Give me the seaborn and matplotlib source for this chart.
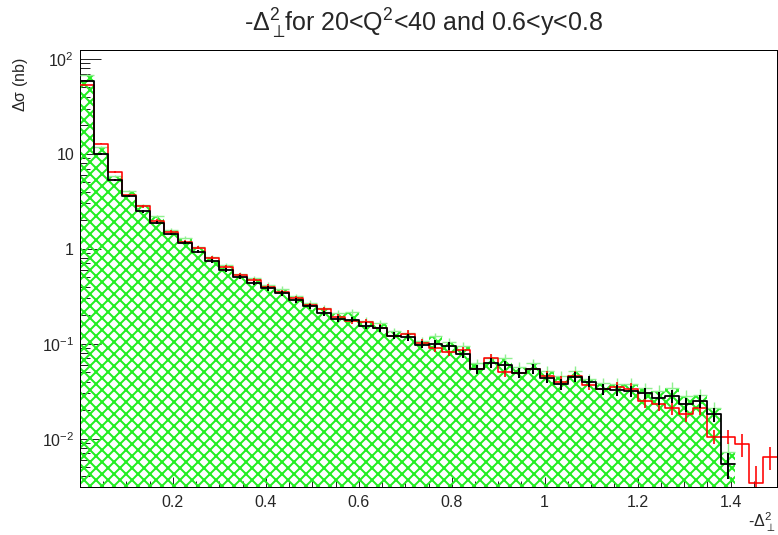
import matplotlib
matplotlib.use("Agg")
import matplotlib.pyplot as plt
import matplotlib.ticker as mticker
import numpy as np
import seaborn as sns

# 50 bins of width 0.03 on 0 .. 1.5
bin_width = 0.03
n_bins = 50

# values (nb), bin by bin
black_vals = [58, 10.0, 5.3, 3.57, 2.48, 1.89, 1.44, 1.16, 0.93, 0.745,
              0.60, 0.50, 0.435, 0.385, 0.34, 0.286, 0.248, 0.209, 0.184, 0.18,
              0.155, 0.145, 0.122, 0.117, 0.098, 0.100, 0.095, 0.078, 0.054, 0.063,
              0.060, 0.049, 0.054, 0.0435, 0.0375, 0.0445, 0.040, 0.0335, 0.0325, 0.0318,
              0.0301, 0.0267, 0.028, 0.023, 0.0248, 0.018, 0.0054]
red_vals = [53, 12.8, 6.4, 3.65, 2.80, 1.98, 1.52, 1.19, 1.03, 0.80,
            0.644, 0.53, 0.468, 0.40, 0.35, 0.30, 0.255, 0.23, 0.19, 0.175,
            0.168, 0.148, 0.122, 0.128, 0.103, 0.091, 0.081, 0.085, 0.054, 0.070,
            0.050, 0.049, 0.054, 0.046, 0.040, 0.046, 0.037, 0.0335, 0.035, 0.0335,
            0.025, 0.023, 0.0209, 0.018, 0.0209, 0.0105, 0.0105, 0.0088, 0.0034, 0.0064]
green_vals = [68, 11.9, 5.8, 4.04, 2.87, 2.19, 1.59, 1.31, 1.05, 0.82,
              0.68, 0.54, 0.49, 0.42, 0.38, 0.315, 0.27, 0.24, 0.21, 0.215,
              0.175, 0.165, 0.137, 0.13, 0.108, 0.12, 0.105, 0.095, 0.062, 0.07,
              0.07, 0.057, 0.062, 0.052, 0.046, 0.052, 0.043, 0.039, 0.038, 0.038,
              0.034, 0.032, 0.034, 0.028, 0.029, 0.021, 0.0073]

# relative errors
black_err = [0.01, 0.02, 0.02, 0.02, 0.03, 0.03, 0.03, 0.04, 0.04, 0.04,
             0.05, 0.05, 0.05, 0.06, 0.06, 0.06, 0.06, 0.07, 0.07, 0.07,
             0.08, 0.08, 0.08, 0.08, 0.09, 0.09, 0.09, 0.10, 0.11, 0.11,
             0.11, 0.12, 0.12, 0.12, 0.13, 0.12, 0.13, 0.13, 0.14, 0.14,
             0.14, 0.15, 0.15, 0.16, 0.16, 0.17, 0.30]
red_err = [0.01, 0.02, 0.02, 0.02, 0.03, 0.03, 0.03, 0.04, 0.04, 0.04,
           0.05, 0.05, 0.05, 0.06, 0.06, 0.06, 0.06, 0.07, 0.07, 0.07,
           0.08, 0.08, 0.08, 0.08, 0.09, 0.09, 0.09, 0.10, 0.11, 0.11,
           0.11, 0.12, 0.12, 0.12, 0.13, 0.12, 0.13, 0.13, 0.14, 0.14,
           0.15, 0.15, 0.16, 0.16, 0.16, 0.17, 0.17, 0.27, 0.50, 0.27]
green_err = [0.01, 0.02, 0.02, 0.02, 0.03, 0.03, 0.03, 0.04, 0.04, 0.04,
             0.05, 0.05, 0.05, 0.06, 0.06, 0.06, 0.06, 0.07, 0.07, 0.07,
             0.08, 0.08, 0.08, 0.08, 0.09, 0.09, 0.09, 0.10, 0.11, 0.11,
             0.11, 0.12, 0.12, 0.12, 0.13, 0.12, 0.13, 0.13, 0.14, 0.14,
             0.14, 0.15, 0.15, 0.16, 0.16, 0.17, 0.25]

x_ticks = [0.2, 0.4, 0.6, 0.8, 1.0, 1.2, 1.4]
x_ticklabels = ["0.2", "0.4", "0.6", "0.8", "1", "1.2", "1.4"]
y_ticks = [1e-2, 1e-1, 1, 10, 100]
y_ticklabels = ["$10^{-2}$", "$10^{-1}$", "1", "10", "$10^{2}$"]

GREEN = "#22ee22"
LIGHT_GREEN = "#90f090"

sns.set_style("white")
plt.rcParams["font.family"] = ["Liberation Sans", "DejaVu Sans"]
plt.rcParams["mathtext.fontset"] = "custom"
plt.rcParams["mathtext.rm"] = "Liberation Sans"
plt.rcParams["mathtext.it"] = "Liberation Sans"
plt.rcParams["hatch.color"] = GREEN
plt.rcParams["hatch.linewidth"] = 2.0


def centers_edges(n):
    edges = [i * bin_width for i in range(n + 1)]
    centers = [e + bin_width / 2 for e in edges[:-1]]
    return centers, edges


# 72 dpi so that hatch spacing matches the ROOT pattern
fig = plt.figure(figsize=(778 / 72, 535 / 72), dpi=72)
ax = fig.add_axes([80 / 778, 1 - 487 / 535, 697 / 778, 437 / 535])

# green hatched histogram
gc, ge = centers_edges(len(green_vals))
sns.histplot(x=gc, weights=green_vals, bins=ge, element="step", fill=True,
             color=GREEN, linewidth=0, ax=ax)
fill = ax.collections[-1]
fill.set_facecolor("none")
fill.set_edgecolor(GREEN)
fill.set_linewidth(0)
fill.set_hatch("xx")
ax.errorbar(gc, green_vals, yerr=np.array(green_err) * np.array(green_vals),
            xerr=bin_width / 2, fmt="none", ecolor=LIGHT_GREEN, elinewidth=1.4,
            zorder=3)

# red histogram
rc, re_ = centers_edges(len(red_vals))
sns.histplot(x=rc, weights=red_vals, bins=re_, element="step", fill=False,
             color="red", linewidth=1.6, ax=ax, zorder=4)
ax.errorbar(rc, red_vals, yerr=np.array(red_err) * np.array(red_vals),
            fmt="none", ecolor="red", elinewidth=1.6, zorder=4)

# black histogram
bc, be = centers_edges(len(black_vals))
sns.histplot(x=bc, weights=black_vals, bins=be, element="step", fill=False,
             color="black", linewidth=1.8, ax=ax, zorder=5)
ax.errorbar(bc, black_vals, yerr=np.array(black_err) * np.array(black_vals),
            fmt="none", ecolor="black", elinewidth=2.0, zorder=5)

ax.set_yscale("log")
ax.set_xlim(0, n_bins * bin_width)
ax.set_ylim(0.0031, 124)

ax.set_xticks(x_ticks)
ax.set_xticklabels(x_ticklabels)
ax.xaxis.set_minor_locator(mticker.MultipleLocator(0.05))
ax.set_yticks(y_ticks)
ax.set_yticklabels(y_ticklabels)
ax.yaxis.set_minor_locator(mticker.LogLocator(base=10, subs=np.arange(2, 10)))
ax.yaxis.set_minor_formatter(mticker.NullFormatter())

ax.tick_params(axis="x", which="major", direction="in", length=10, width=1,
               labelsize=16, pad=8, top=False, bottom=True)
ax.tick_params(axis="x", which="minor", direction="in", length=6, width=1,
               top=False, bottom=True)
ax.tick_params(axis="y", which="major", direction="in", length=21, width=1,
               labelsize=16, pad=6, right=False, left=True)
ax.tick_params(axis="y", which="minor", direction="in", length=10, width=1,
               right=False, left=True)
for s in ax.spines.values():
    s.set_color("black")
    s.set_linewidth(1)

ax.set_xlabel("")
ax.set_ylabel("")
fig.text(424 / 778, 1 - 24 / 535,
         r"-$\Delta_{\perp}^{2}\!$for 20<Q$^{2}$<40 and 0.6<y<0.8",
         ha="center", va="center", fontsize=25)
fig.text(20 / 778, 1 - 58 / 535, r"$\Delta\sigma$ (nb)", rotation=90,
         ha="center", va="top", fontsize=16)
fig.text(775 / 778, 1 - 522 / 535, r"-$\Delta_{\perp}^{2}$",
         ha="right", va="center", fontsize=16)

fig.savefig("out.png", dpi=72)
